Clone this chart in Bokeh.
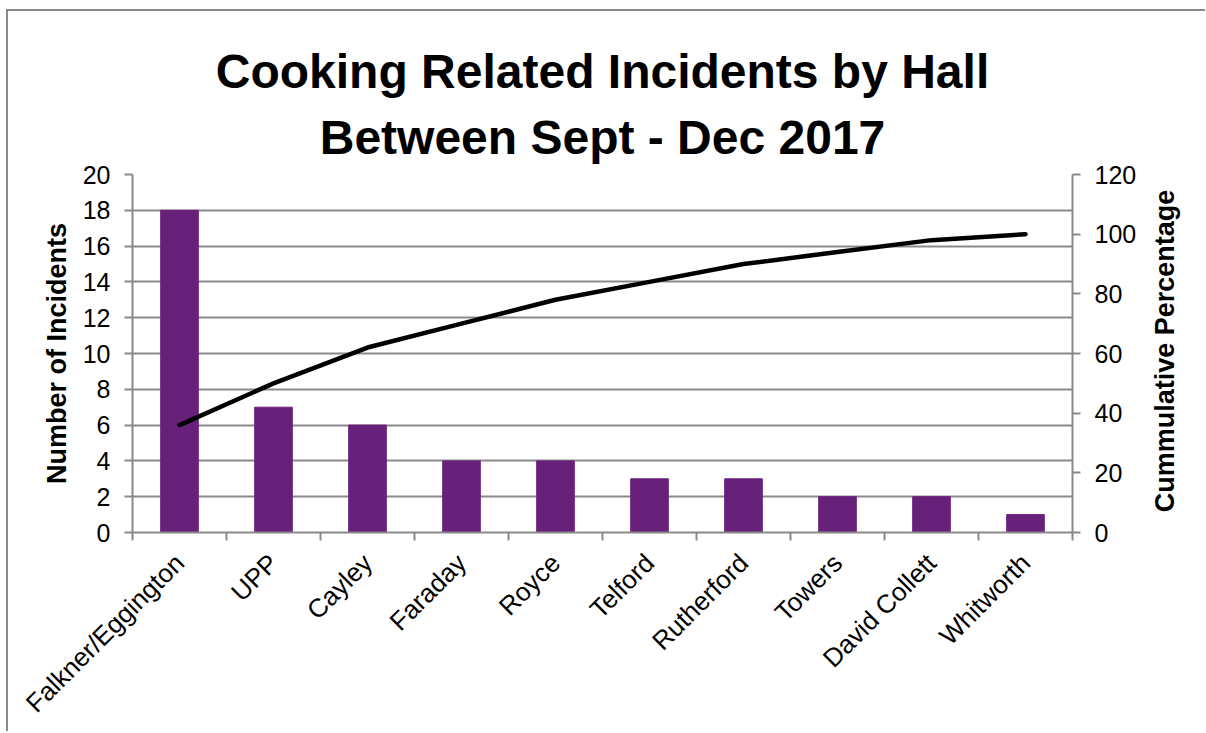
import math
from bokeh.plotting import figure
from bokeh.layouts import row
from bokeh.models import (Range1d, LinearAxis, FixedTicker, Title, Grid, Div)
from bokeh.embed import file_html
from bokeh.resources import INLINE

halls = ["Falkner/Eggington", "UPP", "Cayley", "Faraday", "Royce", "Telford",
         "Rutherford", "Towers", "David Collett", "Whitworth"]
incidents = [18, 7, 6, 4, 4, 3, 3, 2, 2, 1]
cumulative_pct = [36, 50, 62, 70, 78, 84, 90, 94, 98, 100]
left_ticks = [0, 2, 4, 6, 8, 10, 12, 14, 16, 18, 20]
right_ticks = [0, 20, 40, 60, 80, 100, 120]
title_lines = ["Cooking Related Incidents by Hall", "Between Sept - Dec 2017"]
right_label = "Cummulative Percentage"

FONT = "Liberation Sans"
GRAY = "#898989"
BAR = "#68217A"

xs = list(range(len(halls)))
bounds = [i - 0.5 for i in range(len(halls) + 1)]

p = figure(width=1137, height=720, output_backend="svg", toolbar_location=None,
           x_range=Range1d(-0.5, len(halls) - 0.5), y_range=Range1d(0, 20),
           min_border_left=124, min_border_right=73, min_border_top=163,
           min_border_bottom=197, x_axis_location=None, y_axis_location=None)
p.grid.visible = False
p.outline_line_color = None
p.background_fill_color = "white"
p.border_fill_color = "white"

p.extra_y_ranges = {"pct": Range1d(0, 120)}

t2 = Title(text=title_lines[1], align="center", text_font=FONT, text_font_size="48px",
           text_font_style="bold", text_color="black", standoff=22)
t1 = Title(text=title_lines[0], align="center", text_font=FONT, text_font_size="48px",
           text_font_style="bold", text_color="black", standoff=0)
p.add_layout(t2, "above")
p.add_layout(t1, "above")

# bottom axis
xaxis = LinearAxis(ticker=FixedTicker(ticks=xs, minor_ticks=bounds))
xaxis.major_label_overrides = {i: h for i, h in zip(xs, halls)}
xaxis.major_label_orientation = math.pi / 4
xaxis.major_tick_in = 0
xaxis.major_tick_out = 0
xaxis.minor_tick_in = 0
xaxis.minor_tick_out = 8
xaxis.minor_tick_line_color = GRAY
xaxis.minor_tick_line_width = 2
xaxis.axis_line_color = GRAY
xaxis.axis_line_width = 2
xaxis.major_label_text_font = FONT
xaxis.major_label_text_font_size = "26px"
xaxis.major_label_text_color = "black"
xaxis.major_label_standoff = 18
p.add_layout(xaxis, "below")

# left axis
yaxis = LinearAxis(ticker=FixedTicker(ticks=left_ticks), axis_label="Number of Incidents")
yaxis.major_tick_in = 0
yaxis.major_tick_out = 8
yaxis.minor_tick_out = 0
yaxis.minor_tick_in = 0
yaxis.major_tick_line_color = GRAY
yaxis.major_tick_line_width = 2
yaxis.axis_line_color = GRAY
yaxis.axis_line_width = 2
yaxis.major_label_text_font = FONT
yaxis.major_label_text_font_size = "25px"
yaxis.major_label_text_color = "black"
yaxis.major_label_standoff = 14
yaxis.axis_label_text_font = FONT
yaxis.axis_label_text_font_size = "27px"
yaxis.axis_label_text_font_style = "bold"
yaxis.axis_label_text_color = "black"
yaxis.axis_label_standoff = 8
p.add_layout(yaxis, "left")

# right axis (its title is drawn beside the figure so it reads bottom-to-top)
raxis = LinearAxis(y_range_name="pct", ticker=FixedTicker(ticks=right_ticks))
raxis.major_tick_in = 0
raxis.major_tick_out = 8
raxis.minor_tick_out = 0
raxis.minor_tick_in = 0
raxis.major_tick_line_color = GRAY
raxis.major_tick_line_width = 2
raxis.axis_line_color = GRAY
raxis.axis_line_width = 2
raxis.major_label_text_font = FONT
raxis.major_label_text_font_size = "25px"
raxis.major_label_text_color = "black"
raxis.major_label_standoff = 14
p.add_layout(raxis, "right")

# horizontal grid
p.add_layout(Grid(dimension=1, ticker=yaxis.ticker, grid_line_color=GRAY,
                  grid_line_width=2))

p.vbar(x=xs, top=incidents, width=0.4, fill_color=BAR, line_color=BAR)
p.line(x=xs, y=cumulative_pct, y_range_name="pct", line_color="black",
       line_width=4.5, line_cap="round", line_join="round")

label_html = (
    '<div style="position:relative;width:60px;height:720px;">'
    '<div style="position:absolute;left:20px;top:340px;'
    'transform:translate(-50%,-50%) rotate(-90deg);white-space:nowrap;'
    "font-family:'Liberation Sans';font-weight:bold;font-size:27px;"
    'line-height:normal;color:black;">' + right_label + '</div></div>'
)
side = Div(text=label_html, width=60, height=720,
           styles={"margin": "0", "padding": "0", "overflow": "visible"})

layout = row(p, side)
layout.styles = {"border-left": "2px solid #898989", "border-top": "2px solid #898989",
                 "margin-left": "6px", "margin-top": "9px", "gap": "0px"}

open("out.html", "w").write(file_html(layout, INLINE))
